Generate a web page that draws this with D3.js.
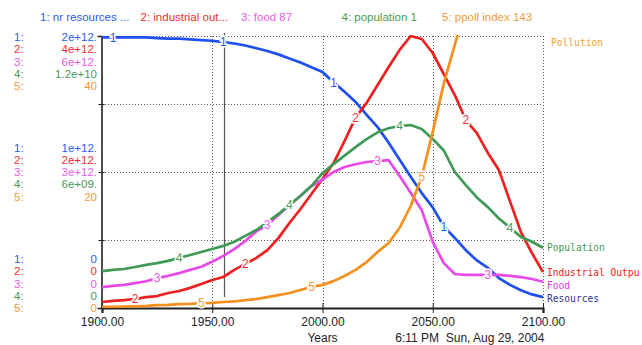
<!DOCTYPE html>
<html>
<head>
<meta charset="utf-8">
<script src="https://cdn.jsdelivr.net/npm/d3@7"></script>
<style>
  body { margin: 0; background: #fff; }
  svg { display: block; }
</style>
</head>
<body>
<div id="chart"></div>
<script>
// World3 run: five series on their own scales, sampled every 5 years
const years = [1900, 1905, 1910, 1915, 1920, 1925, 1930, 1935, 1940, 1945,
  1950, 1955, 1960, 1965, 1970, 1975, 1980, 1985, 1990, 1995,
  2000, 2005, 2010, 2015, 2020, 2025, 2030, 2035, 2040, 2045,
  2050, 2055, 2060, 2065, 2070, 2075, 2080, 2085, 2090, 2095, 2100];

// 1: nonrenewable resources (e12)
const resources = [1.99, 1.99, 1.99, 1.99, 1.99, 1.985, 1.98, 1.98, 1.975, 1.97,
  1.965, 1.955, 1.945, 1.93, 1.91, 1.89, 1.865, 1.835, 1.805, 1.77,
  1.735, 1.66, 1.59, 1.515, 1.42, 1.33, 1.215, 1.09, 0.965, 0.845,
  0.74, 0.60, 0.515, 0.425, 0.35, 0.295, 0.22, 0.17, 0.13, 0.10, 0.08];
// 2: industrial output (e12)
const industrialOutput = [0.088, 0.104, 0.116, 0.132, 0.16, 0.176, 0.22, 0.25, 0.296, 0.352,
  0.412, 0.456, 0.56, 0.648, 0.736, 0.852, 1.028, 1.25, 1.456, 1.676,
  1.896, 2.132, 2.456, 2.80, 3.016, 3.28, 3.544, 3.796, 4.0, 3.956,
  3.75, 3.44, 3.132, 2.764, 2.572, 2.28, 2.028, 1.572, 1.116, 0.808, 0.528];
// 3: food (e12)
const food = [0.46, 0.49, 0.51, 0.55, 0.59, 0.66, 0.71, 0.77, 0.84, 0.91,
  1.02, 1.15, 1.3, 1.48, 1.69, 1.83, 2.05, 2.27, 2.47, 2.69,
  2.83, 3.0, 3.11, 3.17, 3.22, 3.24, 3.26, 2.91, 2.54, 2.16,
  1.46, 0.99, 0.75, 0.73, 0.73, 0.73, 0.73, 0.71, 0.68, 0.64, 0.58];
// 4: population (e9)
const population = [1.63, 1.68, 1.72, 1.81, 1.9, 1.98, 2.08, 2.21, 2.34, 2.47,
  2.6, 2.74, 2.92, 3.18, 3.44, 3.79, 4.15, 4.55, 4.94, 5.39,
  5.95, 6.35, 6.72, 7.1, 7.45, 7.75, 7.93, 8.03, 8.07, 7.9,
  7.46, 6.95, 6.0, 5.42, 4.88, 4.45, 3.95, 3.55, 3.13, 2.92, 2.66];
// 5: persistent pollution index
const pollution = [0.16, 0.17, 0.22, 0.28, 0.3, 0.42, 0.45, 0.58, 0.62, 0.72,
  0.74, 0.88, 0.96, 1.16, 1.32, 1.6, 1.9, 2.2, 2.65, 3.1,
  3.4, 3.95, 4.7, 5.6, 6.75, 8.25, 9.55, 11.8, 15.0, 19.3,
  25.9, 33.0, 38.7, 44.5, 50, 54, 56, 56, 54, 51, 48];

const seriesNames = ['nr resources ...', 'industrial out...', 'food 87', 'population 1', 'ppoll index 143'];
const endLabels = ['Resources', 'Industrial Outpu', 'Food', 'Population', 'Pollution'];
const scaleMax = [2, 4, 6, 12, 40];
const tickTop = ['2e+12.', '4e+12.', '6e+12.', '1.2e+10', '40'];
const tickMid = ['1e+12.', '2e+12.', '3e+12.', '6e+09.', '20'];
const tickBottom = ['0', '0', '0', '0', '0'];
const xTicks = [1900, 1950, 2000, 2050, 2100];
const cursorYear = 1955.5;

const colors = ['#1f4fee', '#ee2020', '#e84ae8', '#3f9a55', '#f5901e'];
const textColors = ['#2a5cf0', '#ee3030', '#e85ce8', '#4a9a5a', '#f29a3c'];
const endColors = ['#33339a', '#ee2020', '#dd33dd', '#3f9a55', '#f5a030'];

const width = 642, height = 345;
const margin = { top: 36, right: 99, bottom: 37, left: 102 };
const plotW = width - margin.left - margin.right;
const plotH = height - margin.top - margin.bottom;

const svg = d3.select('#chart').append('svg')
  .attr('width', width).attr('height', height)
  .style('font-family', '"Liberation Sans", Arial, sans-serif');

const x = d3.scaleLinear().domain([1900, 2100]).range([margin.left, margin.left + plotW]);
const frac = d3.scaleLinear().domain([0, 1]).range([margin.top + plotH, margin.top]);
const yScales = scaleMax.map(m => d3.scaleLinear().domain([0, m]).range([margin.top + plotH, margin.top]));

const data = [resources, industrialOutput, food, population, pollution];

// clip
svg.append('clipPath').attr('id', 'plot')
  .append('rect').attr('x', margin.left).attr('y', margin.top - 1)
  .attr('width', plotW + 1).attr('height', plotH + 1);

// dotted grid
const grid = svg.append('g').attr('stroke', '#555').attr('stroke-dasharray', '1,2').attr('stroke-width', 1);
grid.selectAll('.hg').data([0.25, 0.5, 0.75, 1]).enter().append('line')
  .attr('x1', margin.left).attr('x2', margin.left + plotW)
  .attr('y1', d => Math.round(frac(d)) + 0.5).attr('y2', d => Math.round(frac(d)) + 0.5);
grid.selectAll('.vg').data(xTicks.slice(1)).enter().append('line')
  .attr('y1', margin.top).attr('y2', margin.top + plotH)
  .attr('x1', d => Math.round(x(d)) + 0.5).attr('x2', d => Math.round(x(d)) + 0.5);

// cursor line
svg.append('line')
  .attr('x1', Math.round(x(cursorYear)) + 0.5).attr('x2', Math.round(x(cursorYear)) + 0.5)
  .attr('y1', margin.top - 3).attr('y2', frac(0.04))
  .attr('stroke', '#555').attr('stroke-width', 1.2);

// left axis
const yAxis = svg.append('g')
  .attr('transform', `translate(${margin.left - 0.5},0)`)
  .call(d3.axisLeft(frac).tickValues([0, 0.25, 0.5, 0.75, 1]).tickSize(4).tickFormat(''));
yAxis.select('.domain').attr('stroke', '#222').attr('stroke-width', 1.6);
yAxis.selectAll('.tick line').attr('x2', -3).attr('x1', 3).attr('stroke', '#222');

// bottom axis
const xAxis = svg.append('g')
  .attr('transform', `translate(0,${margin.top + plotH})`)
  .call(d3.axisBottom(x).tickValues(xTicks).tickSize(5).tickFormat(d => d.toFixed(2)));
xAxis.select('.domain').attr('stroke', '#222').attr('stroke-width', 2.2);
xAxis.selectAll('.tick line').attr('y1', -5).attr('y2', 5).attr('stroke', '#222');
xAxis.selectAll('.tick text').attr('y', 9).attr('font-size', 12)
  .attr('font-family', '"Liberation Sans", Arial, sans-serif').attr('fill', '#222');

svg.append('text').attr('x', x(2000)).attr('y', 342)
  .attr('text-anchor', 'middle').attr('font-size', 12).attr('fill', '#222').text('Years');
svg.append('text').attr('x', x(2033)).attr('y', 342)
  .attr('font-size', 12).attr('fill', '#222')
  .style('white-space', 'pre').text('6:11 PM  Sun, Aug 29, 2004');

// lines
const lines = svg.append('g').attr('clip-path', 'url(#plot)');
data.forEach((vals, s) => {
  const line = d3.line().x((d, i) => x(years[i])).y(d => yScales[s](d));
  lines.append('path').datum(vals)
    .attr('fill', 'none').attr('stroke', colors[s])
    .attr('stroke-width', 2.7).attr('stroke-linejoin', 'round')
    .attr('d', line);
});

// series number markers along each curve
data.forEach((vals, s) => {
  const idx = vals.map((v, i) => i).filter(i => (i - 1 - 2 * s) % 10 === 0 && i > 0 && vals[i] <= scaleMax[s]);
  svg.append('g').selectAll('text').data(idx).enter().append('text')
    .attr('x', i => x(years[i])).attr('y', i => yScales[s](vals[i]))
    .attr('dy', '0.36em').attr('text-anchor', 'middle')
    .attr('font-size', 12).attr('fill', textColors[s])
    .attr('stroke', '#fff').attr('stroke-width', 3).attr('paint-order', 'stroke')
    .text(s + 1);
});

// left scale labels
const rowGap = 12.3;
const groups = [
  { labels: tickTop, anchor: 0, y: frac(1) + 1 },
  { labels: tickMid, anchor: 2, y: frac(0.5) },
  { labels: tickBottom, anchor: 4, y: frac(0) }
];
groups.forEach(g => {
  g.labels.forEach((lab, s) => {
    const yy = g.y + (s - g.anchor) * rowGap;
    svg.append('text').attr('x', 14).attr('y', yy).attr('dy', '0.36em')
      .attr('font-size', 11.5).attr('fill', textColors[s]).text(`${s + 1}:`);
    svg.append('text').attr('x', 97).attr('y', yy).attr('dy', '0.36em')
      .attr('text-anchor', 'end').attr('font-size', 11.5).attr('fill', textColors[s]).text(lab);
  });
});

// header
seriesNames.forEach((n, s) => {
  svg.append('text').attr('x', 40 + s * 100.5).attr('y', 17).attr('dy', '0.36em')
    .attr('font-size', 11.5).attr('fill', textColors[s]).text(`${s + 1}: ${n}`);
});

// end labels, pushed apart downward
const ends = data.map((vals, s) => ({
  s, y: Math.max(margin.top + 7, yScales[s](vals[vals.length - 1]))
})).sort((a, b) => a.y - b.y);
for (let i = 1; i < ends.length; i++) {
  if (ends[i].y - ends[i - 1].y < 13) ends[i].y = ends[i - 1].y + 13;
}
svg.append('g').selectAll('text').data(ends).enter().append('text')
  .attr('x', d => d.s === 4 ? 551 : 547).attr('y', d => d.y).attr('dy', '0.36em')
  .attr('font-family', '"DejaVu Sans Mono", monospace').attr('font-size', 9.6)
  .attr('fill', d => endColors[d.s]).text(d => endLabels[d.s]);
</script>
</body>
</html>
